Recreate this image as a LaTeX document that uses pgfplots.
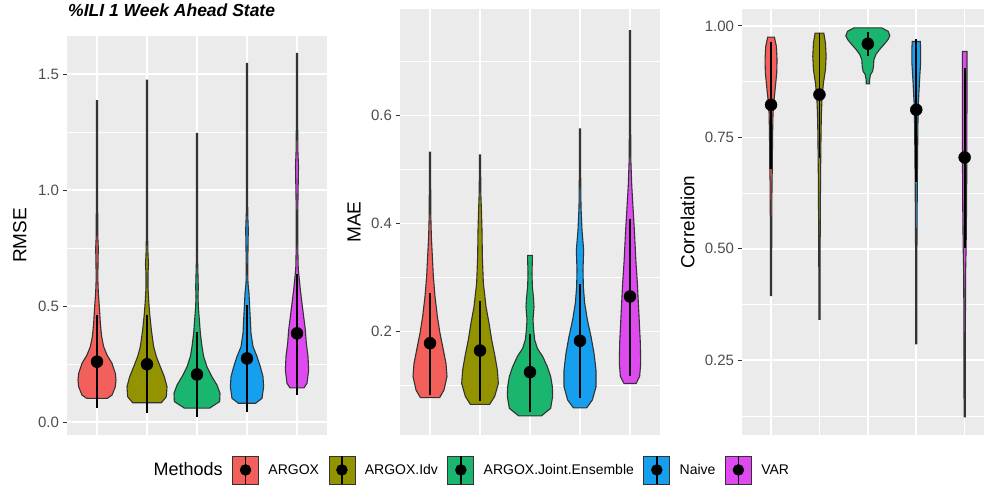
\documentclass[border=0pt]{standalone}
\usepackage{pgfplots}
\pgfplotsset{compat=1.18}
\usepackage{pgfplotstable}
\usepgfplotslibrary{fillbetween}
\usepackage{fontspec}
\setmainfont{Liberation Sans}

\definecolor{cA}{HTML}{F35F5A}
\definecolor{cB}{HTML}{939300}
\definecolor{cC}{HTML}{1AB56E}
\definecolor{cD}{HTML}{169FEE}
\definecolor{cE}{HTML}{DF4AF0}
\definecolor{panelbg}{HTML}{EBEBEB}
\definecolor{grey20}{HTML}{333333}
\definecolor{grey30}{HTML}{4D4D4D}

% ---------- Panel 1: RMSE (y, half width) ----------
\pgfplotstableread{
y w
0.102 0.207
0.116 0.30
0.152 0.367
0.181 0.38
0.21 0.367
0.253 0.30
0.289 0.20
0.325 0.133
0.368 0.093
0.425 0.067
0.497 0.047
0.555 0.027
0.62 0.016
0.70 0.022
0.75 0.026
0.80 0.016
1.00 0.012
1.385 0.012
}\vAa
\pgfplotstableread{
y w
0.083 0.287
0.109 0.387
0.152 0.40
0.195 0.347
0.238 0.267
0.282 0.187
0.325 0.133
0.397 0.087
0.468 0.053
0.526 0.033
0.58 0.02
0.64 0.02
0.68 0.03
0.72 0.02
0.8 0.012
1.474 0.012
}\vAb
\pgfplotstableread{
y w
0.060 0.253
0.088 0.453
0.124 0.46
0.159 0.40
0.195 0.30
0.238 0.20
0.282 0.133
0.325 0.10
0.382 0.067
0.44 0.047
0.497 0.027
0.54 0.02
0.58 0.026
0.63 0.02
0.7 0.012
1.244 0.012
}\vAc
\pgfplotstableread{
y w
0.081 0.173
0.102 0.30
0.152 0.333
0.195 0.32
0.238 0.267
0.282 0.20
0.325 0.12
0.382 0.08
0.44 0.067
0.497 0.053
0.555 0.04
0.598 0.02
0.65 0.014
0.75 0.02
0.83 0.026
0.9 0.014
1.546 0.012
}\vAd
\pgfplotstableread{
y w
0.147 0.14
0.167 0.20
0.224 0.233
0.282 0.22
0.339 0.187
0.397 0.167
0.454 0.133
0.512 0.10
0.569 0.067
0.612 0.047
0.66 0.025
0.75 0.016
0.9 0.015
1.0 0.022
1.1 0.03
1.17 0.018
1.3 0.012
1.589 0.012
}\vAe

% ---------- Panel 2: MAE ----------
\pgfplotstableread{
y w
0.078 0.193
0.092 0.28
0.117 0.34
0.141 0.32
0.166 0.267
0.197 0.20
0.228 0.147
0.265 0.10
0.302 0.067
0.339 0.047
0.376 0.027
0.42 0.015
0.532 0.012
}\vBa
\pgfplotstableread{
y w
0.0655 0.193
0.08 0.293
0.104 0.367
0.129 0.347
0.154 0.30
0.185 0.233
0.216 0.18
0.246 0.12
0.29 0.067
0.339 0.047
0.388 0.04
0.42 0.03
0.46 0.015
0.527 0.012
}\vBb
\pgfplotstableread{
y w
0.044 0.227
0.058 0.413
0.08 0.453
0.098 0.447
0.117 0.413
0.135 0.347
0.154 0.253
0.169 0.147
0.185 0.093
0.203 0.073
0.222 0.06
0.246 0.08
0.265 0.067
0.283 0.047
0.308 0.04
0.333 0.047
0.341 0.047
}\vBc
\pgfplotstableread{
y w
0.059 0.133
0.0735 0.247
0.098 0.32
0.129 0.32
0.16 0.28
0.191 0.22
0.222 0.147
0.253 0.093
0.283 0.067
0.314 0.06
0.351 0.073
0.388 0.04
0.43 0.02
0.5 0.012
0.575 0.012
}\vBd
\pgfplotstableread{
y w
0.104 0.12
0.117 0.193
0.141 0.213
0.178 0.207
0.216 0.187
0.253 0.167
0.29 0.147
0.327 0.12
0.364 0.10
0.388 0.087
0.43 0.06
0.47 0.035
0.52 0.016
0.6 0.012
0.757 0.012
}\vBe

% ---------- Panel 3: Correlation ----------
\pgfplotstableread{
y w
0.395 0.012
0.55 0.014
0.65 0.02
0.69 0.028
0.715 0.028
0.767 0.034
0.805 0.041
0.834 0.062
0.864 0.09
0.894 0.117
0.924 0.124
0.954 0.11
0.975 0.069
}\vCa
\pgfplotstableread{
y w
0.342 0.012
0.5 0.014
0.65 0.022
0.715 0.028
0.767 0.034
0.805 0.041
0.842 0.055
0.872 0.083
0.902 0.124
0.932 0.138
0.962 0.124
0.984 0.09
}\vCb
\pgfplotstableread{
y w
0.870 0.034
0.879 0.034
0.891 0.055
0.898 0.097
0.909 0.117
0.924 0.124
0.936 0.166
0.947 0.241
0.958 0.331
0.969 0.414
0.978 0.455
0.988 0.42
0.9955 0.29
}\vCc
\pgfplotstableread{
y w
0.287 0.012
0.5 0.014
0.65 0.022
0.775 0.034
0.82 0.041
0.85 0.055
0.879 0.069
0.917 0.09
0.95 0.09
0.965 0.083
}\vCd
\pgfplotstableread{
y w
0.123 0.012
0.3 0.014
0.45 0.02
0.5 0.03
0.6 0.04
0.7 0.045
0.827 0.048
0.902 0.048
0.943 0.048
}\vCe

\newcommand{\violin}[4]{%
  \addplot[draw=none, forget plot, name path=L#4] table[x expr={#1-\thisrow{w}}, y=y]{#2};
  \addplot[draw=none, forget plot, name path=R#4] table[x expr={#1+\thisrow{w}}, y=y]{#2};
  \addplot[fill=#3, draw=grey20, line width=1.1pt, forget plot] fill between[of=L#4 and R#4, reverse=true];
}
\newcommand{\stat}[4]{%
  \addplot[black, line width=1.8pt, forget plot] coordinates {(#1,#2) (#1,#3)};
  \addplot[only marks, mark=*, mark size=6pt, black, forget plot] coordinates {(#1,#4)};
}

\pgfplotsset{vstyle/.style={
  scale only axis, anchor=south west,
  xmin=0.4, xmax=5.6, xtick={1,2,3,4,5}, xticklabels={},
  axis background/.style={fill=panelbg},
  xmajorgrids, ymajorgrids, yminorgrids,
  major grid style={white, line width=1.6pt},
  minor grid style={white, line width=0.8pt},
  axis line style={draw=none},
  tick align=outside, tick pos=left,
  xtick style={draw=none},
  ytick style={grey20, line width=1pt},
  major tick length=4.5pt, minor tick length=0pt,
  /pgf/number format/assume math mode=true,
  yticklabel style={font=\fontsize{15}{15}\selectfont, text=grey30},
  ylabel style={font=\fontsize{19}{19}\selectfont, anchor=center},
}}

\begin{document}
\begin{tikzpicture}
% ---------------- RMSE ----------------
\begin{axis}[vstyle, at={(67pt,55pt)}, width=260pt, height=399pt,
  ymin=-0.056, ymax=1.664,
  ytick={0,0.5,1,1.5}, yticklabels={0.0,0.5,1.0,1.5},
  minor ytick={0.25,0.75,1.25},
  ylabel={RMSE}, ylabel style={at={(axis description cs:-0.181,0.5)}},
  title={\bfseries\itshape \%ILI 1 Week Ahead State},
  title style={at={(axis description cs:0.004,1)}, anchor=base west, yshift=13pt, inner sep=0pt, font=\fontsize{17.5}{17.5}\selectfont},
]
\violin{1}{\vAa}{cA}{Aa}
\violin{2}{\vAb}{cB}{Ab}
\violin{3}{\vAc}{cC}{Ac}
\violin{4}{\vAd}{cD}{Ad}
\violin{5}{\vAe}{cE}{Ae}
\stat{1}{0.059}{0.461}{0.26}
\stat{2}{0.037}{0.461}{0.249}
\stat{3}{0.023}{0.389}{0.205}
\stat{4}{0.042}{0.504}{0.274}
\stat{5}{0.116}{0.64}{0.382}
\end{axis}

% ---------------- MAE ----------------
\begin{axis}[vstyle, at={(400pt,55pt)}, width=260pt, height=426pt,
  ymin=0.0087, ymax=0.797,
  ytick={0.2,0.4,0.6}, yticklabels={0.2,0.4,0.6},
  minor ytick={0.1,0.3,0.5,0.7},
  ylabel={MAE}, ylabel style={at={(axis description cs:-0.177,0.5)}},
  legend columns=6,
  legend style={at={(axis description cs:-0.985,-0.082)}, anchor=west,
    draw=none, fill=none, inner sep=0pt, column sep=9.5pt,
    font=\fontsize{14}{14}\selectfont, nodes={inner sep=0pt}},
  legend image code/.code={
    \draw[#1, draw=grey20, line width=0.8pt] (0pt,-14pt) rectangle (26pt,14pt);
    \draw[black, line width=1.8pt] (13pt,-14pt) -- (13pt,14pt);
    \fill[black] (13pt,0pt) circle (5.5pt);
  },
]
\violin{1}{\vBa}{cA}{Ba}
\violin{2}{\vBb}{cB}{Bb}
\violin{3}{\vBc}{cC}{Bc}
\violin{4}{\vBd}{cD}{Bd}
\violin{5}{\vBe}{cE}{Be}
\stat{1}{0.083}{0.271}{0.1785}
\stat{2}{0.0717}{0.257}{0.165}
\stat{3}{0.052}{0.196}{0.125}
\stat{4}{0.0766}{0.288}{0.183}
\stat{5}{0.1186}{0.409}{0.265}
\addlegendimage{empty legend}\addlegendentry{\fontsize{18}{18}\selectfont Methods}
\addlegendimage{fill=cA}\addlegendentry{ARGOX}
\addlegendimage{fill=cB}\addlegendentry{ARGOX.Idv}
\addlegendimage{fill=cC}\addlegendentry{ARGOX.Joint.Ensemble}
\addlegendimage{fill=cD}\addlegendentry{Naive}
\addlegendimage{fill=cE}\addlegendentry{VAR}
\end{axis}

% ---------------- Correlation ----------------
\begin{axis}[vstyle, at={(742pt,55pt)}, width=242pt, height=426pt,
  xmax=5.4,
  ymin=0.0823, ymax=1.038,
  ytick={0.25,0.5,0.75,1}, yticklabels={0.25,0.50,0.75,1.00},
  minor ytick={0.125,0.375,0.625,0.875},
  ylabel={Correlation}, ylabel style={at={(axis description cs:-0.225,0.5)}},
]
\violin{1}{\vCa}{cA}{Ca}
\violin{2}{\vCb}{cB}{Cb}
\violin{3}{\vCc}{cC}{Cc}
\violin{4}{\vCd}{cD}{Cd}
\violin{5}{\vCe}{cE}{Ce}
\stat{1}{0.68}{0.965}{0.823}
\stat{2}{0.703}{0.985}{0.846}
\stat{3}{0.933}{0.986}{0.960}
\stat{4}{0.65}{0.971}{0.812}
\stat{5}{0.501}{0.906}{0.705}
\end{axis}

\pgfresetboundingbox
\path[use as bounding box] (0,0) rectangle (984pt,490pt);
\end{tikzpicture}
\end{document}
